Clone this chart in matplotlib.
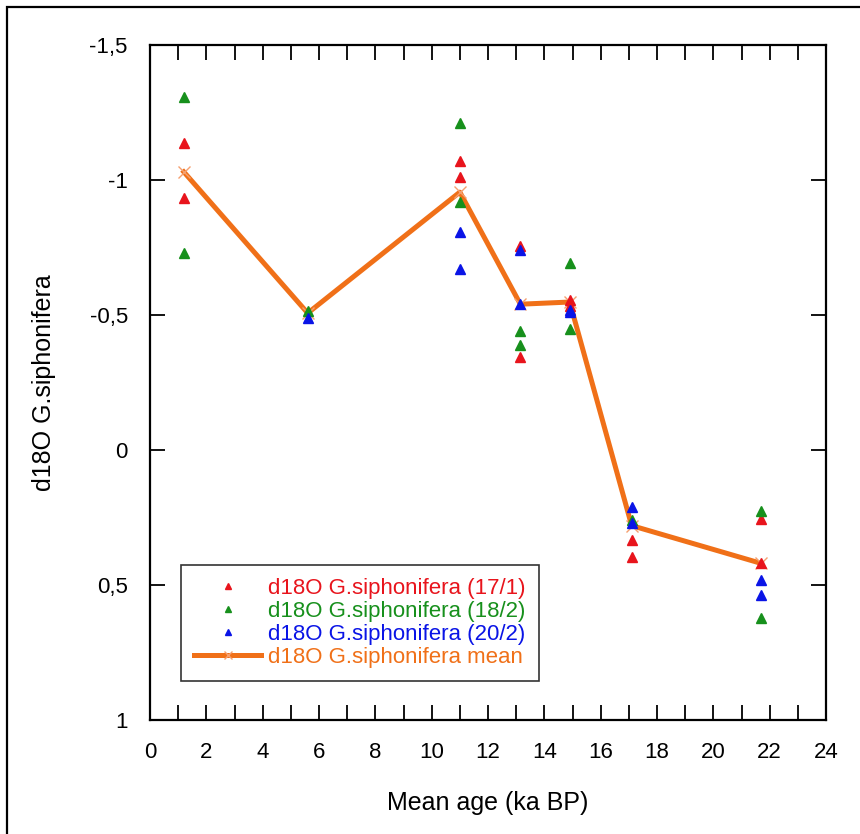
import matplotlib
matplotlib.use("Agg")
import matplotlib.pyplot as plt
from matplotlib.ticker import FuncFormatter, MultipleLocator
from matplotlib.patches import Rectangle

plt.rcParams['font.family'] = ['Liberation Sans', 'DejaVu Sans']

# sample values (x = mean age ka BP, y = d18O)
x_171 = [1.2, 1.2, 11.0, 11.0, 13.15, 13.15, 14.9, 14.9, 17.1, 17.1, 21.7, 21.7]
y_171 = [-1.137, -0.933, -1.071, -1.011, -0.757, -0.343, -0.556, -0.535, 0.333, 0.395, 0.256, 0.417]

x_182 = [1.2, 1.2, 5.6, 11.0, 11.0, 13.15, 13.15, 14.9, 14.9, 17.1, 21.7, 21.7]
y_182 = [-1.307, -0.73, -0.515, -1.212, -0.92, -0.441, -0.389, -0.694, -0.447, 0.259, 0.225, 0.621]

x_202 = [5.6, 11.0, 11.0, 13.15, 13.15, 14.9, 14.9, 17.1, 17.1, 21.7, 21.7]
y_202 = [-0.49, -0.809, -0.67, -0.741, -0.541, -0.512, -0.52, 0.212, 0.27, 0.481, 0.537]

x_mean = [1.2, 5.6, 11.0, 13.15, 14.9, 17.1, 21.7]
y_mean = [-1.03, -0.507, -0.955, -0.54, -0.548, 0.28, 0.42]

red = '#e8141c'
green = '#17901c'
blue = '#0a14e6'
orange = '#f07018'

fig = plt.figure(figsize=(8.6, 8.34), dpi=100)
ax = fig.add_axes([150/860, 1-720/834, 676/860, 675/834])

ax.plot(x_mean, y_mean, color=orange, lw=3.6, marker='x', ms=8,
        mec='#f5a070', mew=1, zorder=2, label='d18O G.siphonifera mean')
ax.plot(x_171, y_171, ls='none', marker='^', ms=6.5, color=red, zorder=3,
        label='d18O G.siphonifera (17/1)')
ax.plot(x_182, y_182, ls='none', marker='^', ms=6.5, color=green, zorder=3,
        label='d18O G.siphonifera (18/2)')
ax.plot(x_202, y_202, ls='none', marker='^', ms=6.5, color=blue, zorder=3,
        label='d18O G.siphonifera (20/2)')

ax.set_xlim(0, 24)
ax.set_ylim(1, -1.5)
ax.xaxis.set_major_locator(MultipleLocator(2))
ax.xaxis.set_minor_locator(MultipleLocator(1))
ax.yaxis.set_major_locator(MultipleLocator(0.5))
fmt = FuncFormatter(lambda v, p: '{:g}'.format(v).replace('.', ','))
ax.yaxis.set_major_formatter(fmt)

ax.tick_params(which='both', direction='in', top=True, right=True,
               length=11, width=1.3, labelsize=16, pad=16)
for s in ax.spines.values():
    s.set_linewidth(1.6)

ax.set_xlabel('Mean age (ka BP)', fontsize=18, labelpad=20)
ax.set_ylabel('d18O G.siphonifera', fontsize=18, labelpad=24)

h, l = ax.get_legend_handles_labels()
order = [1, 2, 3, 0]
leg = ax.legend([h[i] for i in order], [l[i] for i in order],
                loc='lower left', bbox_to_anchor=(0.046, 0.058),
                fontsize=16, frameon=True, fancybox=False, edgecolor='black',
                handlelength=3.0, handletextpad=0.3, borderpad=0.6,
                labelspacing=0.08, markerscale=0.7, borderaxespad=0)
leg.get_frame().set_linewidth(1.2)
for t, c in zip(leg.get_texts(), [red, green, blue, orange]):
    t.set_color(c)

fig.patches.append(Rectangle((7/860, -0.05), 1.1, 1 - 7/834 + 0.05,
                             transform=fig.transFigure, fill=False,
                             edgecolor='black', lw=1.6))

fig.savefig('out.png', dpi=100)
